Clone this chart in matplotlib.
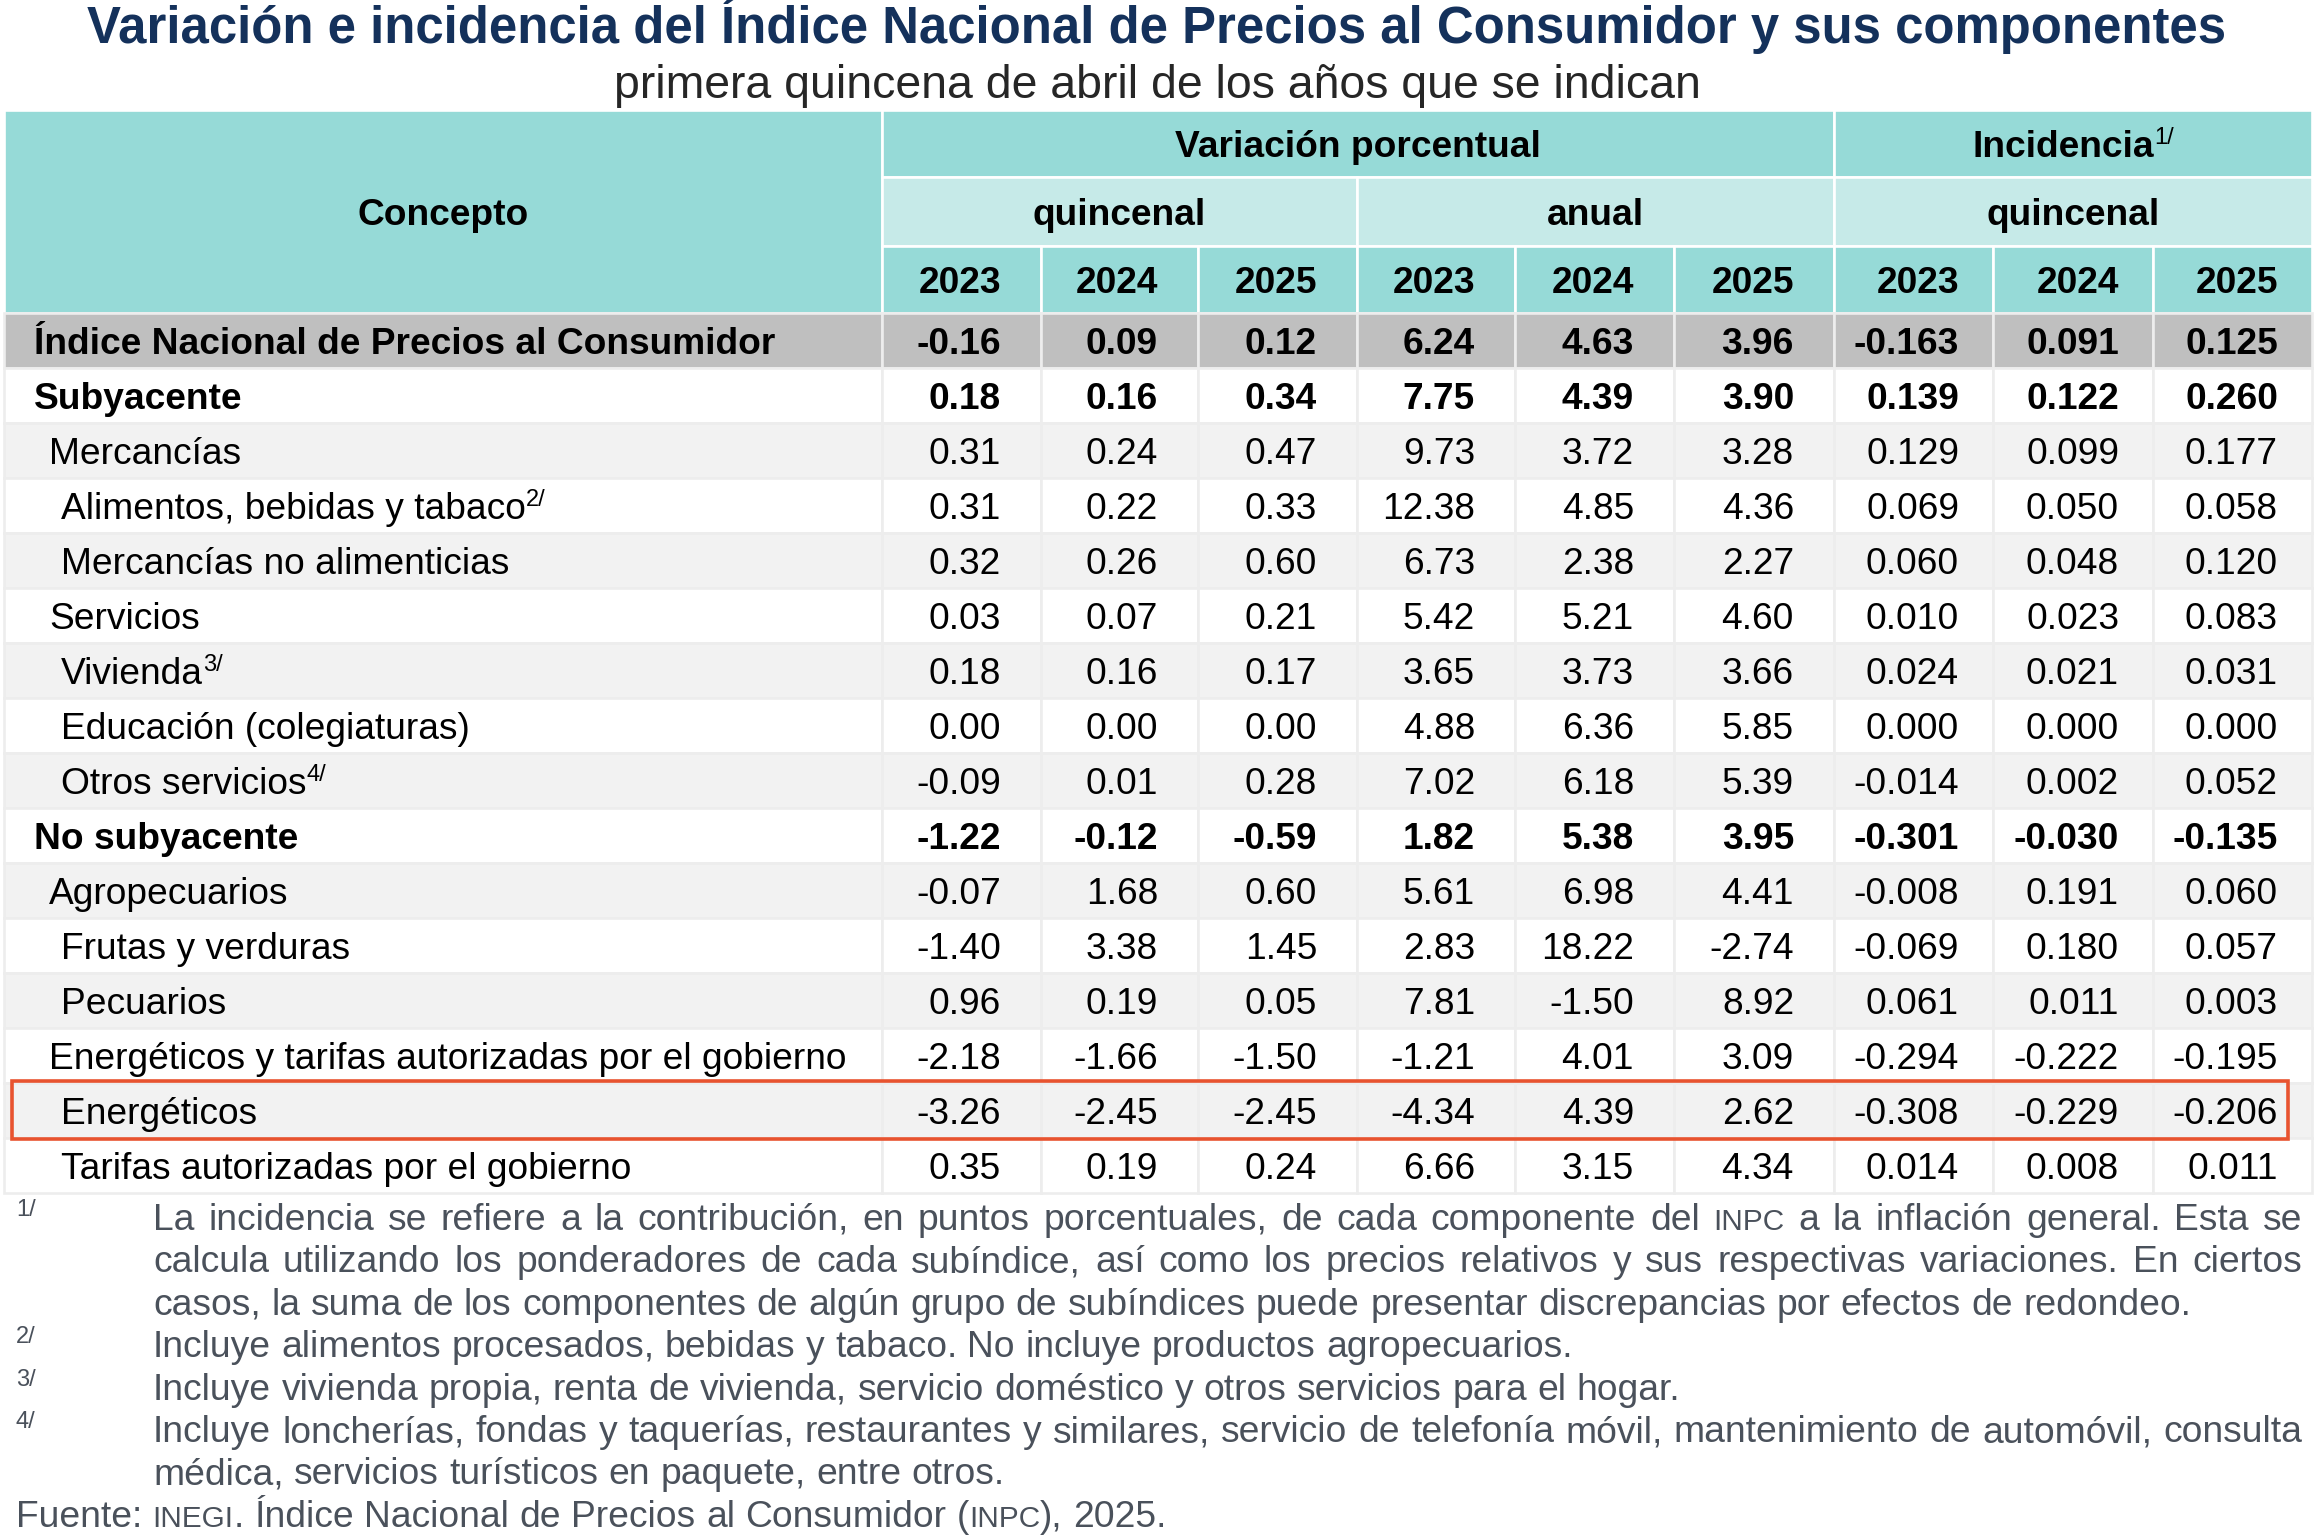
import re
import matplotlib
matplotlib.use('Agg')
import matplotlib.pyplot as plt
from matplotlib.patches import Rectangle

# ---- data ----
title = "Variación e incidencia del Índice Nacional de Precios al Consumidor y sus componentes"
subtitle = "primera quincena de abril de los años que se indican"

concepts = ["Índice Nacional de Precios al Consumidor", "Subyacente", "Mercancías",
            "Alimentos, bebidas y tabaco", "Mercancías no alimenticias", "Servicios",
            "Vivienda", "Educación (colegiaturas)", "Otros servicios", "No subyacente",
            "Agropecuarios", "Frutas y verduras", "Pecuarios",
            "Energéticos y tarifas autorizadas por el gobierno", "Energéticos",
            "Tarifas autorizadas por el gobierno"]
levels = [0, 0, 1, 2, 2, 1, 2, 2, 2, 0, 1, 2, 2, 1, 2, 2]
notes = ["", "", "", "2/", "", "", "3/", "", "4/", "", "", "", "", "", "", ""]
years = ["2023", "2024", "2025"]

q2023 = [-0.16, 0.18, 0.31, 0.31, 0.32, 0.03, 0.18, 0.00, -0.09, -1.22, -0.07, -1.40, 0.96, -2.18, -3.26, 0.35]
q2024 = [0.09, 0.16, 0.24, 0.22, 0.26, 0.07, 0.16, 0.00, 0.01, -0.12, 1.68, 3.38, 0.19, -1.66, -2.45, 0.19]
q2025 = [0.12, 0.34, 0.47, 0.33, 0.60, 0.21, 0.17, 0.00, 0.28, -0.59, 0.60, 1.45, 0.05, -1.50, -2.45, 0.24]
a2023 = [6.24, 7.75, 9.73, 12.38, 6.73, 5.42, 3.65, 4.88, 7.02, 1.82, 5.61, 2.83, 7.81, -1.21, -4.34, 6.66]
a2024 = [4.63, 4.39, 3.72, 4.85, 2.38, 5.21, 3.73, 6.36, 6.18, 5.38, 6.98, 18.22, -1.50, 4.01, 4.39, 3.15]
a2025 = [3.96, 3.90, 3.28, 4.36, 2.27, 4.60, 3.66, 5.85, 5.39, 3.95, 4.41, -2.74, 8.92, 3.09, 2.62, 4.34]
i2023 = [-0.163, 0.139, 0.129, 0.069, 0.060, 0.010, 0.024, 0.000, -0.014, -0.301, -0.008, -0.069, 0.061, -0.294, -0.308, 0.014]
i2024 = [0.091, 0.122, 0.099, 0.050, 0.048, 0.023, 0.021, 0.000, 0.002, -0.030, 0.191, 0.180, 0.011, -0.222, -0.229, 0.008]
i2025 = [0.125, 0.260, 0.177, 0.058, 0.120, 0.083, 0.031, 0.000, 0.052, -0.135, 0.060, 0.057, 0.003, -0.195, -0.206, 0.011]
bold_rows = [0, 1, 9]
highlight_row = 14

footnotes = [
    ("1/", ["La incidencia se refiere a la contribución, en puntos porcentuales, de cada componente del {INPC} a la inflación general. Esta se",
            "calcula utilizando los ponderadores de cada subíndice, así como los precios relativos y sus respectivas variaciones. En ciertos",
            "casos, la suma de los componentes de algún grupo de subíndices puede presentar discrepancias por efectos de redondeo."]),
    ("2/", ["Incluye alimentos procesados, bebidas y tabaco. No incluye productos agropecuarios."]),
    ("3/", ["Incluye vivienda propia, renta de vivienda, servicio doméstico y otros servicios para el hogar."]),
    ("4/", ["Incluye loncherías, fondas y taquerías, restaurantes y similares, servicio de telefonía móvil, mantenimiento de automóvil, consulta",
            "médica, servicios turísticos en paquete, entre otros."]),
]
source = "Fuente: {INEGI}. Índice Nacional de Precios al Consumidor ({INPC}), 2025."

# ---- layout ----
FONT = 'Liberation Sans'
W, H = 2316, 1540
TEAL = '#96DAD7'
TEAL_LIGHT = '#C6EAE8'
GRAY_DARK = '#BFBFBF'
GRAY_LIGHT = '#F2F2F2'
EDGE = '#EDEDED'
TXT_FOOT = '#4A515B'
SZ = 26.7
SUP = 17
FSZ = 26.8

xs = [4, 882, 1041, 1198, 1357, 1515, 1674, 1834, 1993, 2153, 2312]
hy = [110, 177, 246, 313]
row_h = 55
indent = [34, 49, 61]

fig = plt.figure(figsize=(W / 100, H / 100), dpi=100)
ax = fig.add_axes([0, 0, 1, 1])
ax.set_xlim(0, W)
ax.set_ylim(H, 0)
ax.axis('off')
rend = fig.canvas.get_renderer()


def tw(s, size, weight='normal'):
    t = ax.text(0, 0, s, fontsize=size, fontweight=weight, family=FONT)
    w = t.get_window_extent(renderer=rend).width
    t.remove()
    return w


def base(yc, size):
    return yc + 0.358 * size * 100 / 72


def cell(x0, x1, y0, y1, fc, ec):
    ax.add_patch(Rectangle((x0, y0), x1 - x0, y1 - y0, facecolor=fc, edgecolor=ec, lw=1.9, zorder=1))


# title
ax.text(1157, 43, title, ha='center', va='baseline', fontsize=36.6, fontweight='bold',
        color='#14315B', family=FONT)
ax.text(1157, 98, subtitle, ha='center', va='baseline', fontsize=33.4, color='#262626', family=FONT)

# header
cell(xs[0], xs[1], hy[0], hy[3], TEAL, 'white')
cell(xs[1], xs[7], hy[0], hy[1], TEAL, 'white')
cell(xs[7], xs[10], hy[0], hy[1], TEAL, 'white')
for a, b in [(1, 4), (4, 7), (7, 10)]:
    cell(xs[a], xs[b], hy[1], hy[2], TEAL_LIGHT, 'white')
for c in range(1, 10):
    cell(xs[c], xs[c + 1], hy[2], hy[3], TEAL, 'white')

ax.text((xs[0] + xs[1]) / 2, base((hy[0] + hy[3]) / 2, SZ), "Concepto", ha='center', va='baseline',
        fontsize=SZ, fontweight='bold', family=FONT)
ax.text((xs[1] + xs[7]) / 2, base((hy[0] + hy[1]) / 2, SZ), "Variación porcentual", ha='center',
        va='baseline', fontsize=SZ, fontweight='bold', family=FONT)
wi = tw("Incidencia", SZ, 'bold')
ws = tw("1/", SUP)
x0 = (xs[7] + xs[10]) / 2 - (wi + ws) / 2
yb = base((hy[0] + hy[1]) / 2, SZ)
ax.text(x0, yb, "Incidencia", ha='left', va='baseline', fontsize=SZ, fontweight='bold', family=FONT)
ax.text(x0 + wi, yb - 13, "1/", ha='left', va='baseline', fontsize=SUP, family=FONT)
for (a, b), lab in zip([(1, 4), (4, 7), (7, 10)], ["quincenal", "anual", "quincenal"]):
    ax.text((xs[a] + xs[b]) / 2, base((hy[1] + hy[2]) / 2, SZ), lab, ha='center', va='baseline',
            fontsize=SZ, fontweight='bold', family=FONT)

pads = [40] * 6 + [34] * 3
for c in range(9):
    ax.text(xs[c + 2] - pads[c], base((hy[2] + hy[3]) / 2, SZ), years[c % 3], ha='right',
            va='baseline', fontsize=SZ, fontweight='bold', family=FONT)

# body
cols = [q2023, q2024, q2025, a2023, a2024, a2025, i2023, i2024, i2025]
for r, name in enumerate(concepts):
    y0 = hy[3] + r * row_h
    if r == 0:
        fc = GRAY_DARK
    elif r % 2 == 0:
        fc = GRAY_LIGHT
    else:
        fc = 'white'
    for c in range(10):
        cell(xs[c], xs[c + 1], y0, y0 + row_h, fc, EDGE)
    wt = 'bold' if r in bold_rows else 'normal'
    yb = base(y0 + row_h / 2, SZ)
    x = indent[levels[r]]
    ax.text(x, yb, name, ha='left', va='baseline', fontsize=SZ, fontweight=wt, family=FONT, zorder=3)
    if notes[r]:
        ax.text(x + tw(name, SZ, wt), yb - 13, notes[r], ha='left', va='baseline',
                fontsize=SUP, family=FONT, zorder=3)
    for c in range(9):
        fmt = '%.2f' if c < 6 else '%.3f'
        ax.text(xs[c + 2] - pads[c], yb, fmt % cols[c][r], ha='right', va='baseline',
                fontsize=SZ, fontweight=wt, family=FONT, zorder=3)

hy0 = hy[3] + highlight_row * row_h
ax.add_patch(Rectangle((12, hy0 - 2), 2288 - 12, row_h + 3, facecolor='none',
                       edgecolor='#E8532F', lw=2.6, zorder=5))


# footnotes
def runs_of(word, size):
    out = []
    for part in re.split(r'(\{[^}]*\})', word):
        if not part:
            continue
        if part.startswith('{'):
            out.append((part[1:-1], size * 0.8))
        else:
            out.append((part, size))
    return out


def word_width(runs):
    return sum(tw(t, s) for t, s in runs)


def draw_runs(x, y, runs):
    for t, s in runs:
        ax.text(x, y, t, ha='left', va='baseline', fontsize=s, color=TXT_FOOT, family=FONT)
        x += tw(t, s)
    return x


space = tw("a a", FSZ) - tw("aa", FSZ)
left, right = 153, 2302
yb = 1230
step = 42.4
for mark, lines in footnotes:
    ax.text(16, yb - 14, mark, ha='left', va='baseline', fontsize=SUP, color=TXT_FOOT, family=FONT)
    for k, line in enumerate(lines):
        words = [runs_of(w, FSZ) for w in line.split(' ')]
        widths = [word_width(w) for w in words]
        if k < len(lines) - 1:
            gap = (right - left - sum(widths)) / (len(words) - 1)
        else:
            gap = space
        x = left
        for w, wd in zip(words, widths):
            draw_runs(x, yb, w)
            x += wd + gap
        yb += step

x = 16
for w in source.split(' '):
    runs = runs_of(w, FSZ)
    draw_runs(x, yb, runs)
    x += word_width(runs) + space

fig.savefig('out.png', dpi=100)
